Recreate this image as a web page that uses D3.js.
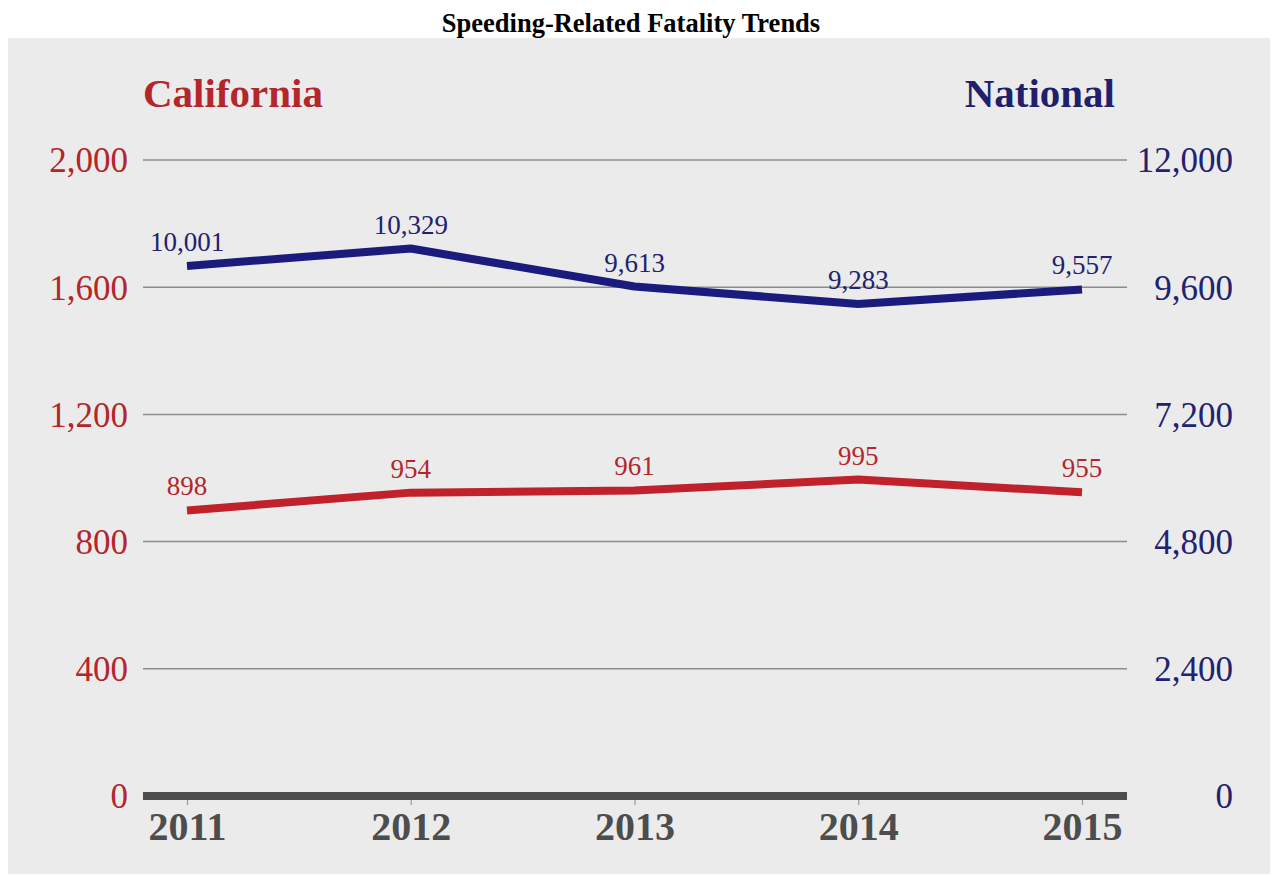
<!DOCTYPE html>
<html>
<head>
<meta charset="utf-8">
<script src="https://cdn.jsdelivr.net/npm/d3@7"></script>
<style>
  html, body { margin: 0; padding: 0; background: #ffffff; }
  svg { display: block; }
  text { font-family: "Liberation Serif", "Times New Roman", serif; }
</style>
</head>
<body>
<svg id="chart" width="1276" height="876"></svg>
<script>
// Speeding-related fatalities, 2011–2015
const years = ["2011", "2012", "2013", "2014", "2015"];
const california = [898, 954, 961, 995, 955];
const national = [10001, 10329, 9613, 9283, 9557];
const leftTicks = [0, 400, 800, 1200, 1600, 2000];
const rightTicks = [0, 2400, 4800, 7200, 9600, 12000];

const RED = "#b3262c";
const RED_LINE = "#c0212a";
const NAVY = "#22226e";
const NAVY_LINE = "#1b1b7e";
const AXIS = "#4d4d4d";

const svg = d3.select("#chart");

// background panel
svg.append("rect")
  .attr("x", 8).attr("y", 38)
  .attr("width", 1262).attr("height", 836)
  .attr("fill", "#ebebeb");

// title
svg.append("text")
  .attr("x", 631).attr("y", 32)
  .attr("text-anchor", "middle")
  .attr("font-size", 26.5).attr("font-weight", "bold")
  .attr("fill", "#000")
  .text("Speeding-Related Fatality Trends");

const plotLeft = 143, plotRight = 1127, plotTop = 160, plotBottom = 796;

const x = d3.scalePoint().domain(years).range([187, 1082]);
const yL = d3.scaleLinear().domain([0, 2000]).range([plotBottom, plotTop]);
const yR = d3.scaleLinear().domain([0, 12000]).range([plotBottom, plotTop]);

const fmt = d3.format(",");

// series headers
svg.append("text")
  .attr("x", 143).attr("y", 107)
  .attr("font-size", 41).attr("font-weight", "bold")
  .attr("fill", RED).text("California");
svg.append("text")
  .attr("x", 1115).attr("y", 107)
  .attr("text-anchor", "end")
  .attr("font-size", 41).attr("font-weight", "bold")
  .attr("fill", "#1f1f6b").text("National");

// gridlines
svg.append("g")
  .selectAll("line")
  .data(leftTicks.filter(d => d > 0))
  .join("line")
  .attr("x1", plotLeft).attr("x2", plotRight)
  .attr("y1", d => yL(d)).attr("y2", d => yL(d))
  .attr("stroke", "#8c8c8c").attr("stroke-width", 1.5);

// left axis (California)
const leftAxis = svg.append("g")
  .attr("transform", `translate(${plotLeft - 15},0)`)
  .call(d3.axisLeft(yL).tickValues(leftTicks).tickFormat(fmt).tickSize(0).tickPadding(0));
leftAxis.select(".domain").remove();
leftAxis.selectAll("text")
  .attr("font-family", "Liberation Serif, serif")
  .attr("font-size", 35).attr("fill", RED).attr("dy", "0.34em");

// right axis (National)
const rightAxis = svg.append("g")
  .attr("transform", `translate(1233,0)`)
  .call(d3.axisRight(yR).tickValues(rightTicks).tickFormat(fmt).tickSize(0).tickPadding(0));
rightAxis.select(".domain").remove();
rightAxis.selectAll("text")
  .attr("font-family", "Liberation Serif, serif")
  .attr("font-size", 35).attr("fill", NAVY).attr("dy", "0.34em")
  .attr("text-anchor", "end");

// bottom axis
const bottom = svg.append("g")
  .attr("transform", `translate(0,${plotBottom})`)
  .call(d3.axisBottom(x).tickSize(9).tickPadding(6));
bottom.select(".domain").remove();
bottom.selectAll(".tick line").attr("stroke", "#9a9a9a").attr("stroke-width", 1.2);
bottom.selectAll("text")
  .attr("font-family", "Liberation Serif, serif")
  .attr("font-size", 40).attr("font-weight", "bold")
  .attr("fill", AXIS).attr("dy", "0.72em");
bottom.append("line")
  .attr("x1", plotLeft).attr("x2", plotRight)
  .attr("y1", 0).attr("y2", 0)
  .attr("stroke", AXIS).attr("stroke-width", 8);

// lines
const lineL = d3.line().x((d, i) => x(years[i])).y(d => yL(d));
const lineR = d3.line().x((d, i) => x(years[i])).y(d => yR(d));

svg.append("path").datum(national)
  .attr("d", lineR).attr("fill", "none")
  .attr("stroke", NAVY_LINE).attr("stroke-width", 8)
  .attr("stroke-linejoin", "round");
svg.append("path").datum(california)
  .attr("d", lineL).attr("fill", "none")
  .attr("stroke", RED_LINE).attr("stroke-width", 8)
  .attr("stroke-linejoin", "round");

// value labels
svg.append("g").selectAll("text")
  .data(national).join("text")
  .attr("x", (d, i) => x(years[i]))
  .attr("y", d => yR(d) - 15)
  .attr("text-anchor", "middle")
  .attr("font-size", 27).attr("fill", NAVY)
  .text(d => fmt(d));
svg.append("g").selectAll("text")
  .data(california).join("text")
  .attr("x", (d, i) => x(years[i]))
  .attr("y", d => yL(d) - 15)
  .attr("text-anchor", "middle")
  .attr("font-size", 27).attr("fill", RED)
  .text(d => fmt(d));
</script>
</body>
</html>
